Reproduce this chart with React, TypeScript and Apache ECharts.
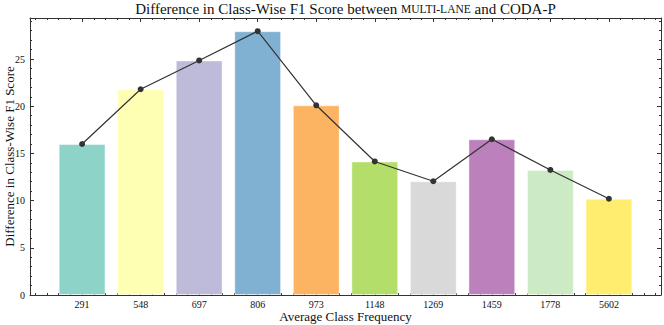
import React, { useEffect, useRef } from "react";
import * as echarts from "echarts";

const categories = ["291", "548", "697", "806", "973", "1148", "1269", "1459", "1778", "5602"];
const f1Differences = [16.0, 21.8, 24.85, 27.95, 20.1, 14.15, 12.05, 16.5, 13.25, 10.2];
const barColors = ["#8dd3c7", "#ffffb3", "#bebada", "#80b1d3", "#fdb462", "#b3de69", "#d9d9d9", "#bc80bd", "#ccebc5", "#ffed6f"];
const yMajorTicks = [0, 5, 10, 15, 20, 25];
const titleParts = ["Difference in Class-Wise F1 Score between ", "MULTI-LANE", " and CODA-P"];
const xAxisTitle = "Average Class Frequency";
const yAxisTitle = "Difference in Class-Wise F1 Score";

const FONT = "Liberation Serif";
const AX = "#333333";

export default function App() {
  const ref = useRef<HTMLDivElement>(null);
  useEffect(() => {
    if (!ref.current) return;
    const chart = echarts.init(ref.current, undefined, { renderer: "svg" });
    const n = categories.length;
    const xMin = -0.4 - 0.05 * (n - 1 + 0.8);
    const xMax = n - 1 + 0.4 + 0.05 * (n - 1 + 0.8);
    const yMax = Math.max(...f1Differences) * 1.05;
    const xMajor = categories.map((_, i) => i);
    const xMinor: number[] = [];
    for (let k = Math.ceil(xMin * 5); k <= Math.floor(xMax * 5); k++) {
      if (k % 5 !== 0) xMinor.push(k / 5);
    }
    const yMinor: number[] = [];
    for (let k = 1; k <= Math.floor(yMax); k++) if (k % 5 !== 0) yMinor.push(k);

    const baseX = (pos: string, ticks: number[], len: number, label: boolean, line: boolean) => ({
      type: "value",
      position: pos,
      min: xMin,
      max: xMax,
      splitLine: { show: false },
      axisLine: { show: line, onZero: false, lineStyle: { color: AX, width: 1 } },
      axisTick: { show: true, inside: true, length: len, customValues: ticks, lineStyle: { color: AX, width: 1 } },
      axisLabel: label
        ? {
            show: true,
            customValues: ticks,
            formatter: (v: number) => categories[Math.round(v)] ?? "",
            fontFamily: FONT,
            fontSize: 10,
            color: "#111",
            margin: 4,
          }
        : { show: false },
    });
    const baseY = (pos: string, ticks: number[], len: number, label: boolean, line: boolean) => ({
      type: "value",
      position: pos,
      min: 0,
      max: yMax,
      splitLine: { show: false },
      axisLine: { show: line, onZero: false, lineStyle: { color: AX, width: 1 } },
      axisTick: { show: true, inside: true, length: len, customValues: ticks, lineStyle: { color: AX, width: 1 } },
      axisLabel: label
        ? { show: true, customValues: ticks, fontFamily: FONT, fontSize: 10, color: "#111", margin: 5 }
        : { show: false },
    });

    chart.setOption({
      animation: false,
      backgroundColor: "#ffffff",
      grid: { left: 30, right: 3, top: 18, bottom: 30, containLabel: false },
      xAxis: [
        baseX("bottom", xMajor, 4, true, true),
        baseX("bottom", xMinor, 2, false, false),
        baseX("top", xMajor, 4, false, true),
        baseX("top", xMinor, 2, false, false),
      ],
      yAxis: [
        baseY("left", yMajorTicks, 4, true, true),
        baseY("left", yMinor, 2, false, false),
        baseY("right", yMajorTicks, 4, false, true),
        baseY("right", yMinor, 2, false, false),
      ],
      series: [
        {
          type: "bar",
          xAxisIndex: 0,
          yAxisIndex: 0,
          barWidth: 46.8,
          data: f1Differences.map((v, i) => ({
            value: [i, v],
            itemStyle: { color: barColors[i], borderColor: "rgba(255,255,255,0.45)", borderWidth: 1 },
          })),
        },
        {
          type: "line",
          xAxisIndex: 0,
          yAxisIndex: 0,
          data: f1Differences.map((v, i) => [i, v]),
          symbol: "circle",
          symbolSize: 6,
          itemStyle: { color: "#333333" },
          lineStyle: { color: "#333333", width: 1.2 },
          z: 5,
        },
      ],
      graphic: [
        {
          type: "text",
          x: 345.5,
          y: 9,
          style: {
            text: `${titleParts[0]}{sc|${titleParts[1]}}${titleParts[2]}`,
            rich: {
              sc: {
                font: `normal normal 11.5px "${FONT}"`,
                fontSize: 11.5,
                fontFamily: FONT,
                fill: "#111",
              },
            },
            fontFamily: FONT,
            fontSize: 15,
            fill: "#111",
            align: "center",
            verticalAlign: "middle",
          },
        },
        {
          type: "text",
          x: 345.5,
          y: 316,
          style: {
            text: xAxisTitle,
            fontFamily: FONT,
            fontSize: 13,
            fill: "#111",
            align: "center",
            verticalAlign: "middle",
          },
        },
        {
          type: "text",
          x: 9,
          y: 156.5,
          rotation: Math.PI / 2,
          style: {
            text: yAxisTitle,
            fontFamily: FONT,
            fontSize: 13,
            fill: "#111",
            align: "center",
            verticalAlign: "middle",
          },
        },
      ],
    });
    return () => chart.dispose();
  }, []);
  return (
    <div
      ref={ref}
      style={{ position: "absolute", left: 0, top: 0, width: 664, height: 325, background: "#fff" }}
    />
  );
}
